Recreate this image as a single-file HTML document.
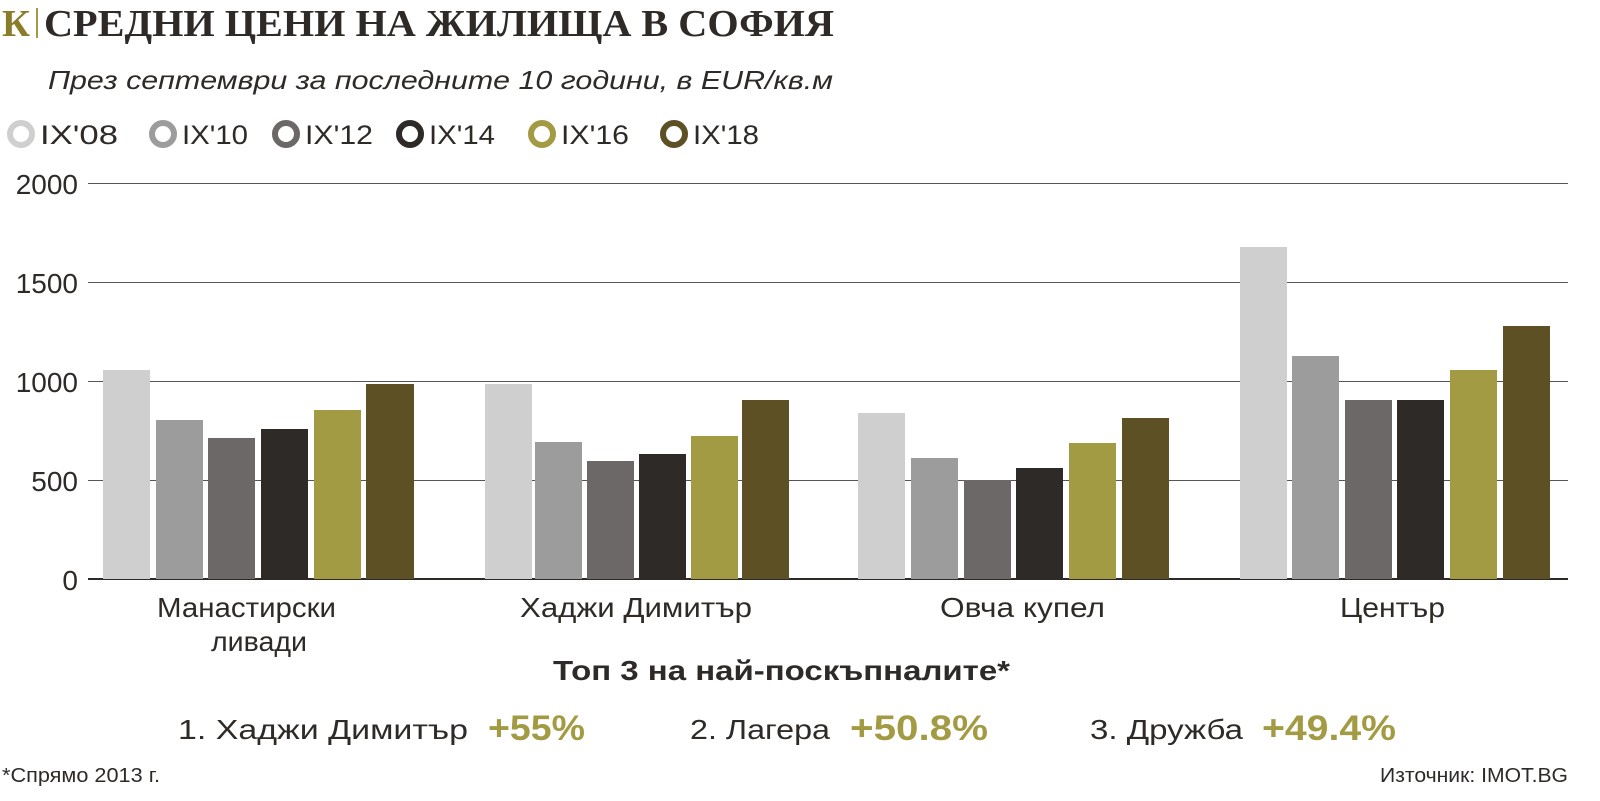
<!DOCTYPE html>
<html><head><meta charset="utf-8"><style>
html,body{margin:0;padding:0;background:#fff;}
svg{display:block}
</style></head><body>
<svg width="1600" height="801" viewBox="0 0 1600 801" xmlns="http://www.w3.org/2000/svg" font-family="'Liberation Sans', sans-serif">
<text x="2" y="36" font-family="'Liberation Serif',serif" font-weight="bold" font-size="38" fill="#8a7d2a" textLength="28" lengthAdjust="spacingAndGlyphs">К</text>
<rect x="36" y="8" width="2" height="30" fill="#a39b43"/>
<text x="44" y="36" font-family="'Liberation Serif',serif" font-weight="bold" font-size="38" fill="#2e2a27" textLength="790" lengthAdjust="spacingAndGlyphs">СРЕДНИ ЦЕНИ НА ЖИЛИЩА В СОФИЯ</text>
<text x="48" y="89" font-style="italic" font-size="26" fill="#2e2a27" textLength="785" lengthAdjust="spacingAndGlyphs">През септември за последните 10 години, в EUR/кв.м</text>
<g font-size="27" fill="#2e2a27">
<circle cx="21" cy="134" r="11" fill="none" stroke="#cfcfcf" stroke-width="6"/><text x="40" y="144" textLength="78" lengthAdjust="spacingAndGlyphs">IX'08</text>
<circle cx="163" cy="134" r="11" fill="none" stroke="#9d9c9c" stroke-width="6"/><text x="182" y="144" textLength="66" lengthAdjust="spacingAndGlyphs">IX'10</text>
<circle cx="286" cy="134" r="11" fill="none" stroke="#6b6867" stroke-width="6"/><text x="305" y="144" textLength="68" lengthAdjust="spacingAndGlyphs">IX'12</text>
<circle cx="410" cy="134" r="11" fill="none" stroke="#2e2a27" stroke-width="6"/><text x="429" y="144" textLength="66" lengthAdjust="spacingAndGlyphs">IX'14</text>
<circle cx="542" cy="134" r="11" fill="none" stroke="#a39b43" stroke-width="6"/><text x="561" y="144" textLength="68" lengthAdjust="spacingAndGlyphs">IX'16</text>
<circle cx="674" cy="134" r="11" fill="none" stroke="#5c5024" stroke-width="6"/><text x="693" y="144" textLength="66" lengthAdjust="spacingAndGlyphs">IX'18</text>
</g>
<g stroke="#555" stroke-width="1">
<line x1="88" y1="183.5" x2="1568" y2="183.5"/><line x1="88" y1="282.5" x2="1568" y2="282.5"/><line x1="88" y1="381.5" x2="1568" y2="381.5"/><line x1="88" y1="480.5" x2="1568" y2="480.5"/>
</g>
<g font-size="28" fill="#2e2a27" text-anchor="end">
<text x="78" y="194">2000</text><text x="78" y="293">1500</text><text x="78" y="392">1000</text><text x="78" y="491">500</text><text x="78" y="590">0</text>
</g>
<rect x="88" y="578" width="1480" height="2" fill="#2e2a27"/>
<g font-size="28" fill="#2e2a27">
<text x="157" y="617" textLength="179" lengthAdjust="spacingAndGlyphs">Манастирски</text>
<text x="211" y="651" textLength="96" lengthAdjust="spacingAndGlyphs">ливади</text>
<text x="520" y="617" textLength="232" lengthAdjust="spacingAndGlyphs">Хаджи Димитър</text>
<text x="940" y="617" textLength="165" lengthAdjust="spacingAndGlyphs">Овча купел</text>
<text x="1340" y="617" textLength="105" lengthAdjust="spacingAndGlyphs">Център</text>
<text x="553" y="680" font-weight="bold" textLength="457" lengthAdjust="spacingAndGlyphs">Топ 3 на най-поскъпналите*</text>
<text x="178" y="739" textLength="290" lengthAdjust="spacingAndGlyphs">1.  Хаджи Димитър</text>
<text x="690" y="739" textLength="140" lengthAdjust="spacingAndGlyphs">2.  Лагера</text>
<text x="1090" y="739" textLength="153" lengthAdjust="spacingAndGlyphs">3.  Дружба</text>
</g>
<g font-weight="bold" font-size="35" fill="#a39b43">
<text x="488" y="740" textLength="97" lengthAdjust="spacingAndGlyphs">+55%</text>
<text x="850" y="740" textLength="138" lengthAdjust="spacingAndGlyphs">+50.8%</text>
<text x="1262" y="740" textLength="134" lengthAdjust="spacingAndGlyphs">+49.4%</text>
</g>
<text x="2" y="782" font-size="20" fill="#2e2a27" textLength="158" lengthAdjust="spacingAndGlyphs">*Спрямо 2013 г.</text>
<text x="1380" y="782" font-size="20" fill="#2e2a27" textLength="188" lengthAdjust="spacingAndGlyphs">Източник: IMOT.BG</text>
<g>
<rect x="103" y="370" width="47" height="209" fill="#cfcfcf"/>
<rect x="156" y="420" width="47" height="159" fill="#9d9c9c"/>
<rect x="208" y="438" width="47" height="141" fill="#6b6867"/>
<rect x="261" y="429" width="47" height="150" fill="#2e2a27"/>
<rect x="314" y="410" width="47" height="169" fill="#a39b43"/>
<rect x="366" y="384" width="48" height="195" fill="#5c5024"/>
<rect x="485" y="384" width="47" height="195" fill="#cfcfcf"/>
<rect x="535" y="442" width="47" height="137" fill="#9d9c9c"/>
<rect x="587" y="461" width="47" height="118" fill="#6b6867"/>
<rect x="639" y="454" width="47" height="125" fill="#2e2a27"/>
<rect x="691" y="436" width="47" height="143" fill="#a39b43"/>
<rect x="742" y="400" width="47" height="179" fill="#5c5024"/>
<rect x="858" y="413" width="47" height="166" fill="#cfcfcf"/>
<rect x="911" y="458" width="47" height="121" fill="#9d9c9c"/>
<rect x="964" y="480" width="47" height="99" fill="#6b6867"/>
<rect x="1016" y="468" width="47" height="111" fill="#2e2a27"/>
<rect x="1069" y="443" width="47" height="136" fill="#a39b43"/>
<rect x="1122" y="418" width="47" height="161" fill="#5c5024"/>
<rect x="1240" y="247" width="47" height="332" fill="#cfcfcf"/>
<rect x="1292" y="356" width="47" height="223" fill="#9d9c9c"/>
<rect x="1345" y="400" width="47" height="179" fill="#6b6867"/>
<rect x="1397" y="400" width="47" height="179" fill="#2e2a27"/>
<rect x="1450" y="370" width="47" height="209" fill="#a39b43"/>
<rect x="1503" y="326" width="47" height="253" fill="#5c5024"/>
</g>
</svg>
</body></html>
